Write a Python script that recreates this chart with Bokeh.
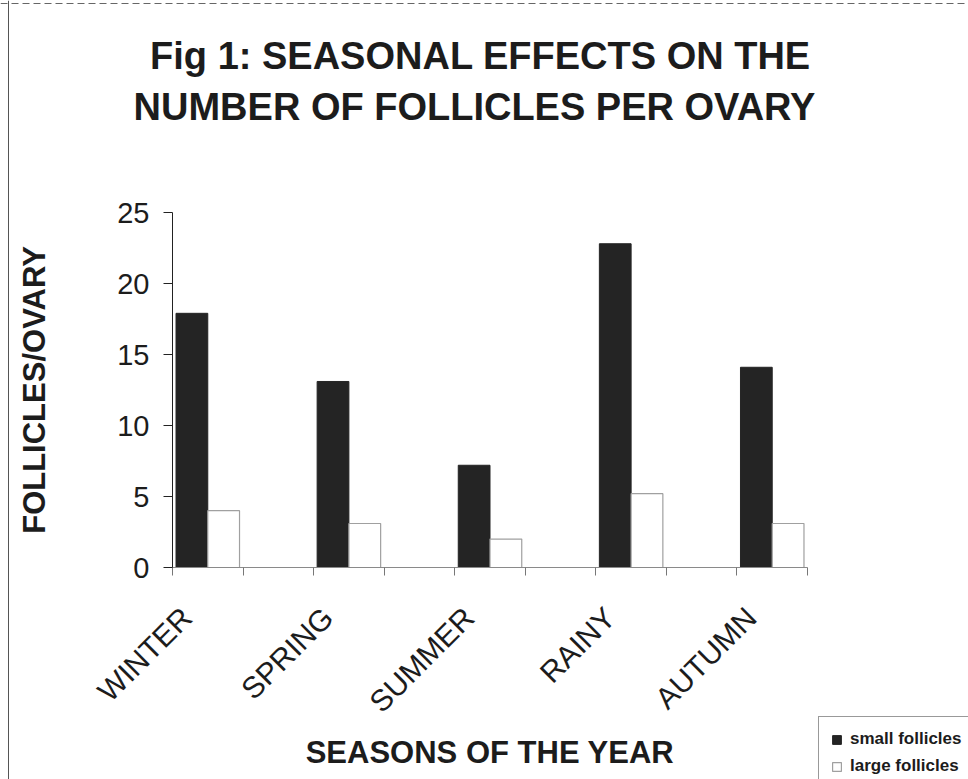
import math
from bokeh.plotting import figure
from bokeh.models import (Range1d, FixedTicker, Label, Legend, LegendItem, ColumnDataSource, Span)
from bokeh.embed import file_html
from bokeh.resources import INLINE

# ---- data ----
seasons = ["WINTER", "SPRING", "SUMMER", "RAINY", "AUTUMN"]
small_follicles = [17.9, 13.1, 7.2, 22.8, 14.1]
large_follicles = [4.0, 3.1, 2.0, 5.2, 3.1]
y_ticks = [0, 5, 10, 15, 20, 25]
title_lines = ["Fig 1: SEASONAL EFFECTS ON THE", "NUMBER OF FOLLICLES PER OVARY"]
x_title = "SEASONS OF THE YEAR"
y_title = "FOLLICLES/OVARY"
series_names = ["small follicles", "large follicles"]

# layout: each season occupies one slot followed by an empty slot (9 slots total)
n_slots = 2 * len(seasons) - 1
centers = [2 * i + 0.5 for i in range(len(seasons))]
label_pos = [c - 0.3 for c in centers]
Y_MAX = 25

W, H = 968, 779
# pixel position of the axes box inside the canvas
AX_L, AX_R, AX_T, AX_B = 172, 807, 212, 567
sx = (AX_R - AX_L) / n_slots      # px per x unit
sy = (AX_B - AX_T) / Y_MAX        # px per y unit

def px_x(px):
    return (px - AX_L) / sx

def px_y(py):
    return (AX_B - py) / sy

# the frame covers the whole canvas; axes are pinned at data locations
p = figure(width=W, height=H, output_backend="svg", toolbar_location=None,
           x_range=Range1d(px_x(0), px_x(W)), y_range=Range1d(px_y(H), px_y(0)),
           min_border=0, background_fill_color="white", border_fill_color="white")
p.outline_line_color = None
p.xgrid.visible = False
p.ygrid.visible = False

FONT = "Liberation Sans"
TXT = "#1c1c1c"

src = ColumnDataSource(dict(
    xs=[c - 0.225 for c in centers],
    xl=[c + 0.225 for c in centers],
    small=small_follicles, large=large_follicles))

r_small = p.vbar(x="xs", top="small", bottom=0, width=0.45, source=src,
                 fill_color="#242424", line_color="#242424", line_width=1)
r_large = p.vbar(x="xl", top="large", bottom=0, width=0.45, source=src,
                 fill_color="white", line_color="#a0a0a0", line_width=1.2)

# x axis
xa = p.xaxis[0]
xa.fixed_location = 0
xa.bounds = (0, n_slots)
xa.ticker = FixedTicker(ticks=label_pos, minor_ticks=list(range(n_slots + 1)))
xa.major_label_overrides = {c: s for c, s in zip(label_pos, seasons)}
xa.major_tick_out = 0
xa.major_tick_in = 0
xa.minor_tick_out = 8
xa.minor_tick_in = 0
xa.minor_tick_line_color = "#777777"
xa.axis_line_color = "#8a8a8a"
xa.major_label_orientation = math.pi / 4
xa.major_label_text_font = FONT
xa.major_label_text_font_size = "30px"
xa.major_label_text_color = TXT
xa.major_label_standoff = 37
xa.axis_label = x_title
xa.axis_label_text_font = FONT
xa.axis_label_text_font_style = "bold"
xa.axis_label_text_font_size = "31px"
xa.axis_label_text_color = TXT
xa.axis_label_standoff = 2

# y axis
ya = p.yaxis[0]
ya.fixed_location = 0
ya.bounds = (0, Y_MAX)
ya.ticker = FixedTicker(ticks=y_ticks)
ya.minor_tick_line_color = None
ya.major_tick_out = 9
ya.major_tick_in = 0
ya.axis_line_color = "#222222"
ya.major_tick_line_color = "#222222"
ya.major_label_text_font = FONT
ya.major_label_text_font_size = "29px"
ya.major_label_text_color = TXT
ya.major_label_standoff = 14
ya.axis_label = y_title
ya.axis_label_text_font = FONT
ya.axis_label_text_font_style = "bold"
ya.axis_label_text_font_size = "31px"
ya.axis_label_text_color = TXT
ya.axis_label_standoff = 62

# two-line title
for line, cx, base in zip(title_lines, [480, 474], [55, 106]):
    p.add_layout(Label(x=px_x(cx), y=px_y(base), text=line, text_align="center",
                       text_baseline="alphabetic", text_font=FONT, text_font_style="bold",
                       text_font_size="38px", text_color=TXT))

# scanned page edges
p.add_layout(Span(location=px_x(8), dimension="height", line_color="#555555", line_width=1))
p.add_layout(Span(location=px_y(3), dimension="width", line_color="#666666", line_width=1,
                  line_dash="7 4"))

legend = Legend(items=[LegendItem(label=series_names[0], renderers=[r_small]),
                       LegendItem(label=series_names[1], renderers=[r_large])],
                location=(818, H - 789),
                border_line_color="#333333", border_line_width=1,
                background_fill_color="white", background_fill_alpha=1,
                label_text_font=FONT, label_text_font_style="bold",
                label_text_font_size="17px", label_text_color=TXT,
                glyph_width=11, glyph_height=11, label_standoff=8,
                padding=12, spacing=7, margin=0, label_height=14)
p.add_layout(legend, "center")

open("out.html", "w").write(file_html(p, INLINE))
